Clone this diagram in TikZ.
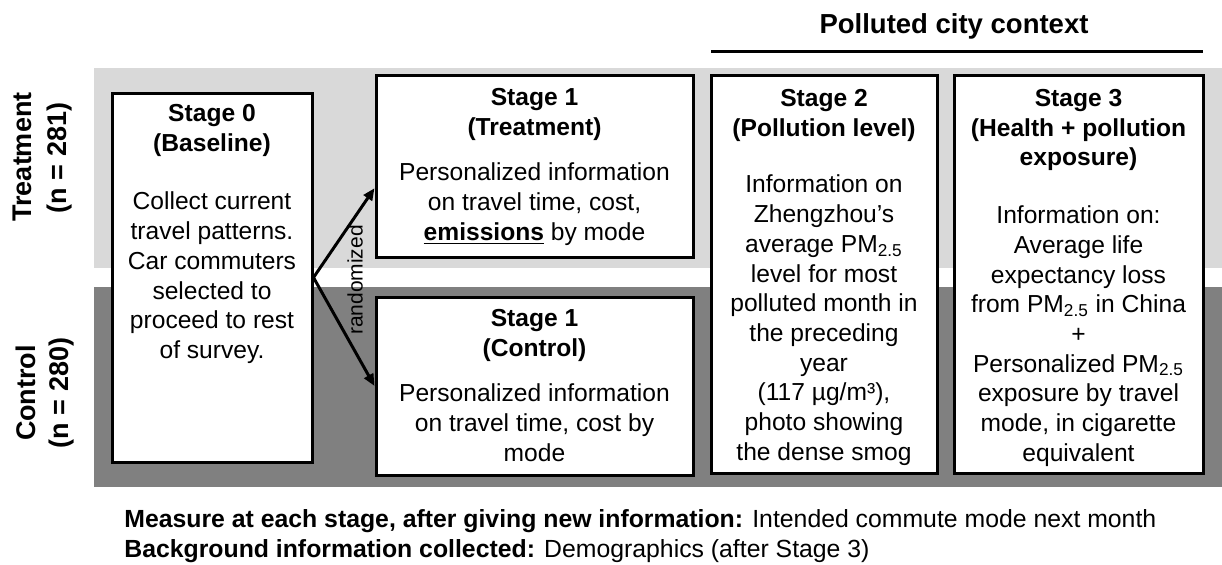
\documentclass[tikz,border=0pt]{standalone}
\usepackage{fontspec}
\setmainfont{Liberation Sans}
\usetikzlibrary{arrows.meta,calc}
\definecolor{bandlight}{HTML}{D9D9D9}
\definecolor{banddark}{HTML}{808080}
\begin{document}
\begin{tikzpicture}[x=0.5pt,y=-0.5pt,
  stagebox/.style={draw=black, line width=1.5pt, fill=white, inner sep=0pt},
  bodytext/.style={align=center, anchor=north, inner sep=0pt, font=\fontsize{12.3}{14.85}\selectfont},
  sidelabel/.style={rotate=90, inner sep=0pt, font=\fontsize{13.5}{16}\selectfont\bfseries},
  conn/.style={line width=1.5pt, -{Triangle[length=6pt,width=5pt]}},
  foot/.style={anchor=base west, inner sep=0pt, font=\fontsize{12.4}{15}\selectfont}]
\useasboundingbox (0,0) rectangle (1222,564);
\fill[bandlight] (94,68) rectangle (1222,268);
\fill[banddark] (94,287) rectangle (1222,487);

% title
\node[anchor=base, inner sep=0pt, font=\fontsize{13.75}{16}\selectfont\bfseries] (ctx) at (954,33) {Polluted city context};
\coordinate (ctxl) at (711,51);
\coordinate (ctxr) at (1203,51);
\draw[line width=1.5pt] (ctxl) -- (ctxr);

% side labels
\node[sidelabel] (trt) at (22,157) {Treatment};
\node[sidelabel] (trtn) at (60,158) {(n = 281)};
\node[sidelabel] (ctl) at (26,393) {Control};
\node[sidelabel] (ctln) at (62,393) {(n = 280)};

% boxes
\node[stagebox, minimum width=100pt, minimum height=184.5pt] (s0) at (212,277.5) {};
\node[stagebox, minimum width=158.5pt, minimum height=91pt] (s1t) at (534.5,166) {};
\node[stagebox, minimum width=158.5pt, minimum height=89pt] (s1c) at (534.5,386) {};
\node[stagebox, minimum width=113pt, minimum height=199pt] (s2) at (824,274) {};
\node[stagebox, minimum width=124.5pt, minimum height=199pt] (s3) at (1078.5,274) {};

% box texts
\node[bodytext] (t0) at (212,104) {\textbf{Stage 0}\\\textbf{(Baseline)}\\[14.5pt]Collect current\\travel patterns.\\Car commuters\\selected to\\proceed to rest\\of survey.};
\node[bodytext] (t1t) at (534.5,88) {\textbf{Stage 1}\\\textbf{(Treatment)}\\[8pt]Personalized information\\on travel time, cost,\\\underline{\textbf{emissions}} by mode};
\node[bodytext] (t1c) at (534.5,309) {\textbf{Stage 1}\\\textbf{(Control)}\\[8pt]Personalized information\\on travel time, cost by\\mode};
\node[bodytext] (t2) at (824,89) {\textbf{Stage 2}\\\textbf{(Pollution level)}\\[13.5pt]Information on\\Zhengzhou’s\\average PM\textsubscript{2.5}\\level for most\\polluted month in\\the preceding\\year\\(117 µg/m³),\\photo showing\\the dense smog};
\node[bodytext] (t3) at (1078.5,89) {\textbf{Stage 3}\\\textbf{(Health + pollution}\\\textbf{exposure)}\\[14pt]Information on:\\Average life\\expectancy loss\\from PM\textsubscript{2.5} in China\\+\\Personalized PM\textsubscript{2.5}\\exposure by travel\\mode, in cigarette\\equivalent};

% connectors
\draw[conn] (s0.east) -- ($(s1t.south west)!0.38!(s1t.north west)$);
\draw[conn] (s0.east) -- (s1c.west);
\node[rotate=90, inner sep=0pt, font=\fontsize{10.5}{12}\selectfont] (rnd) at (355,280) {randomized};

% footer
\node[foot] (m1) at (124,527) {\textbf{Measure at each stage, after giving new information:} Intended commute mode next month};
\node[foot] (m2) at (124,557) {\textbf{Background information collected:} Demographics (after Stage 3)};
\end{tikzpicture}
\end{document}
